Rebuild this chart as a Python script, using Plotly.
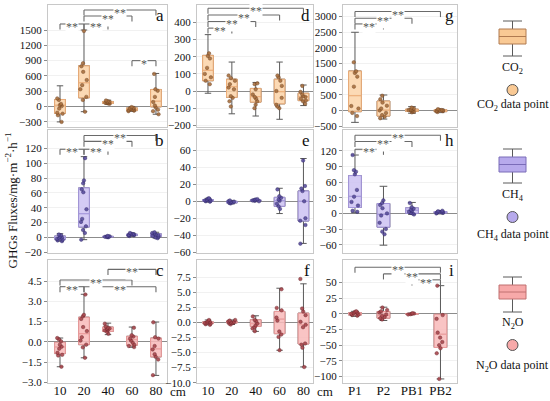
import plotly.graph_objects as go
from plotly.subplots import make_subplots

# %% Data
depth_cats = ["10", "20", "40", "60", "80"]
plot_cats = ["P1", "P2", "PB1", "PB2"]

# box stats per category: [lower whisker, q1, median, q3, upper whisker]
# CO2 by depth (a), CO2 by depth (d), CO2 by plot (g)
a_box = [[-300, -136, 27, 139, 407], [-100, 171, 466, 800, 1500],
         [45, 60, 80, 100, 125], [-95, -80, -55, -25, -5], [-150, -5, 106, 335, 649]]
a_pts = [[160, 130, 50, 30, 10, -40, -120, -140, -170, -300],
         [1480, 850, 790, 680, 520, 420, 340, 190, 130, -100],
         [120, 105, 95, 85, 80, 75, 70, 60, 55],
         [-10, -25, -35, -45, -55, -60, -70, -80, -90],
         [640, 340, 310, 190, 90, 20, -20, -60, -90, -150]]
a_sig = [(0, 1, 1618, "**"), (1, 2, 1618, "**"), (1, 3, 1775, "**"),
         (1, 4, 1893, "**"), (3, 4, 900, "*")]
a_ticks = [-300, 0, 300, 600, 900, 1200, 1500]

d_box = [[-13, 60, 121, 208, 329], [-133, -37, 25, 69, 169], [-146, -65, -33, 15, 50],
         [-165, -75, -4, 69, 169], [-85, -56, -33, -13, 35]]
d_pts = [[220, 205, 190, 135, 100, 80, 60, 40],
         [90, 75, 60, 40, 20, 10, -30, -40, -60, -90],
         [45, 40, 10, -20, -35, -45, -60, -80, -100],
         [90, 80, 60, 30, 0, -40, -80, -90, -100],
         [30, -5, -20, -30, -35, -45, -55, -60, -75]]
d_sig = [(0, 1, 367, "**"), (0, 2, 406, "**"), (0, 3, 444, "**"), (0, 4, 483, "**")]
d_ticks = [-200, -100, 0, 100, 200, 300, 400]

g_box = [[-382, -41, 471, 1261, 2498], [-276, -180, 11, 300, 493],
         [-90, -30, 10, 40, 120], [-70, -40, -5, 20, 45]]
g_pts = [[1540, 1250, 1200, 1080, 760, 140, 60, -80, -180],
         [470, 360, 250, 150, 60, 0, -80, -150, -200, -250],
         [90, 60, 30, 20, 10, 0, -20, -40, -60],
         [40, 20, 10, 0, -10, -20, -30, -50]]
g_sig = [(0, 1, 2765, "**"), (0, 2, 2947, "**"), (0, 3, 3160, "**")]
g_ticks = [-500, 0, 500, 1000, 1500, 2000, 2500, 3000]

# CH4
b_box = [[-5, -3, 0, 2, 5], [-3, 14, 32, 67, 109], [0, 0.5, 1, 1.5, 2],
         [1.5, 2.5, 3.5, 4.5, 6], [-1, 1, 3, 5, 7]]
b_pts = [[4, 3, 1, 0, -1, -2, -3, -4, -5],
         [107, 77, 73, 65, 61, 38, 25, 21, 15, 10, 6, -3],
         [2, 1.5, 1.2, 1, 0.8, 0.5, 0.3],
         [6, 5, 4.5, 4, 3.5, 3, 2.5, 2],
         [7, 6, 5, 4, 3, 2, 1, 0, -1]]
b_sig = [(0, 1, 119, "**"), (1, 2, 119, "**"), (1, 3, 129.7, "**"), (1, 4, 137.6, "**")]
b_ticks = [-20, 0, 20, 40, 60, 80, 100, 120]

e_box = [[-1, 0, 1, 2, 3.5], [-3, -2, -1, 0, 1], [-0.5, 0.3, 1, 1.6, 2.5],
         [-14.5, -6, 0.8, 4.6, 15.3], [-49.7, -23.3, 0, 12.2, 50.4]]
e_pts = [[3.5, 3, 2, 1.5, 1, 0.5, 0, -0.5],
         [1, 0, -0.5, -1, -1.5, -2, -2.5],
         [2.5, 2, 1.5, 1, 0.5, 0],
         [14, 6, 4, 2, 0.5, -3, -6, -9],
         [48, 18, 15, 12, 0, -20, -23, -28, -50]]
e_sig = []
e_ticks = [-60, -40, -20, 0, 20, 40, 60]

h_box = [[1.2, 11.3, 32.8, 72.6, 112], [-61, -26.5, -2, 19, 52],
         [-2, 0, 6, 10.7, 21], [-1, 0.5, 2, 3.5, 5]]
h_pts = [[112, 83, 80, 75, 45, 32, 22, 15, 5, 3],
         [25, 20, 16, 10, 0, -4, -18, -30, -35, -40],
         [20, 12, 9, 7, 5, 3, 1, 0, -2],
         [5, 4, 3, 2.5, 2, 1.5, 1, 0]]
h_sig = [(0, 1, 123, "**"), (0, 2, 138, "**"), (0, 3, 150, "**")]
h_ticks = [-60, -30, 0, 30, 60, 90, 120]

# N2O
c_box = [[-1.83, -0.86, -0.37, -0.02, 0.29], [-1.17, -0.2, 0.61, 1.83, 3.52],
         [0.54, 0.78, 0.95, 1.1, 1.39], [-0.39, -0.24, 0.17, 0.42, 1.1],
         [-2.47, -1.1, -0.51, 0.29, 1.47]]
c_pts = [[0.29, 0.2, 0.05, -0.2, -0.35, -0.5, -0.8, -0.95, -1.0, -1.83],
         [3.5, 2.0, 1.9, 1.7, 1.1, 0.8, 0.35, 0.1, -0.2, -0.4, -1.17],
         [1.35, 1.15, 1.05, 1.0, 0.95, 0.9, 0.85, 0.75, 0.6],
         [1.05, 0.5, 0.4, 0.25, 0.1, -0.05, -0.2, -0.3, -0.38],
         [1.45, 0.35, 0.25, -0.3, -0.55, -0.9, -1.1, -1.3, -2.45]]
c_sig = [(0, 1, 4.08, "**"), (1, 4, 4.08, "**"), (0, 3, 4.57, "**"), (2, 4, 5.36, "**")]
c_ticks = [-3.0, -1.5, 0.0, 1.5, 3.0, 4.5]

f_box = [[-0.4, -0.2, 0, 0.1, 0.4], [-0.35, -0.1, 0.05, 0.2, 0.4],
         [-1.49, -0.66, -0.22, 0.44, 1.1], [-4.62, -1.87, 0.55, 1.82, 5.67],
         [-7.38, -3.58, -0.39, 1.54, 6.4]]
f_pts = [[0.4, 0.2, 0.1, 0, -0.1, -0.2, -0.3, -0.4],
         [0.4, 0.3, 0.15, 0.05, 0, -0.1, -0.2, -0.35],
         [1.0, 0.4, 0.2, -0.2, -0.5, -0.8, -1.0, -1.45],
         [5.5, 2.4, 2.0, 0.8, 0.3, -1.5, -2.0, -2.4, -4.6],
         [7.2, 2.3, 1.8, 1.2, 0.1, -0.4, -0.8, -3.5, -3.7, -4.2, -7.4]]
f_sig = []
f_ticks = [-10.0, -7.5, -5.0, -2.5, 0.0, 2.5, 5.0, 7.5]

i_box = [[-4, -2, 0, 2, 4], [-10.6, -6.9, -2.7, 3.7, 10.6],
         [-1, -0.5, 0, 0.5, 1], [-104, -53.7, -32.5, -0.5, 45]]
i_pts = [[4, 3, 2, 1, 0, -1, -2, -3],
         [10, 6, 4, 2, -1, -3, -5, -7, -9],
         [1, 0.5, 0, -0.5, -1],
         [45, -2, -8, -30, -38, -45, -50, -55, -63, -104]]
i_sig = [(0, 3, 74.5, "**"), (1, 3, 63.8, "**"), (2, 3, 54.3, "**")]
i_ticks = [-100, -75, -50, -25, 0, 25, 50]

# %% Styles
FONT = "Liberation Serif"
WHISKER = "#5a5a5a"
STYLE = {
    "co2": dict(fill="rgba(251,211,168,0.85)", edge="#EFAE78", pt="#A8703F", ptline="#6e4322",
                legfill="#F9C994", legedge="#b07a50", label="CO<sub>2</sub>"),
    "ch4": dict(fill="rgba(204,194,242,0.85)", edge="#A597DD", pt="#5A4E9E", ptline="#2f2766",
                legfill="#B7AAEC", legedge="#7a6cb8", label="CH<sub>4</sub>"),
    "n2o": dict(fill="rgba(248,186,186,0.85)", edge="#EE9C9C", pt="#A9484E", ptline="#6b2328",
                legfill="#F7A9A9", legedge="#c07070", label="N<sub>2</sub>O"),
}

panels = [
    dict(letter="a", row=1, col=1, gas="co2", cats=depth_cats, box=a_box, pts=a_pts, sig=a_sig, ticks=a_ticks, yr=[-400, 1990], fmt=""),
    dict(letter="d", row=1, col=2, gas="co2", cats=depth_cats, box=d_box, pts=d_pts, sig=d_sig, ticks=d_ticks, yr=[-210, 502], fmt=""),
    dict(letter="g", row=1, col=3, gas="co2", cats=plot_cats, box=g_box, pts=g_pts, sig=g_sig, ticks=g_ticks, yr=[-530, 3370], fmt=""),
    dict(letter="b", row=2, col=1, gas="ch4", cats=depth_cats, box=b_box, pts=b_pts, sig=b_sig, ticks=b_ticks, yr=[-21, 145], fmt=""),
    dict(letter="e", row=2, col=2, gas="ch4", cats=depth_cats, box=e_box, pts=e_pts, sig=e_sig, ticks=e_ticks, yr=[-61, 84], fmt=""),
    dict(letter="h", row=2, col=3, gas="ch4", cats=plot_cats, box=h_box, pts=h_pts, sig=h_sig, ticks=h_ticks, yr=[-76, 160], fmt=""),
    dict(letter="c", row=3, col=1, gas="n2o", cats=depth_cats, box=c_box, pts=c_pts, sig=c_sig, ticks=c_ticks, yr=[-3.03, 6.05], fmt=".1f"),
    dict(letter="f", row=3, col=2, gas="n2o", cats=depth_cats, box=f_box, pts=f_pts, sig=f_sig, ticks=f_ticks, yr=[-10.05, 10.35], fmt=".1f"),
    dict(letter="i", row=3, col=3, gas="n2o", cats=plot_cats, box=i_box, pts=i_pts, sig=i_sig, ticks=i_ticks, yr=[-110.5, 86], fmt=""),
]

W, H = 550, 401
def px(x):
    return x / W
def py(y):
    return 1 - y / H

col_dom = {1: [px(48), px(167)], 2: [px(197), px(313)], 3: [px(343), px(457)]}
row_dom = {1: [py(127), py(5)], 2: [py(253), py(130)], 3: [py(383), py(260)]}
x_range = {1: [-0.5, 4.46], 2: [-0.46, 4.4], 3: [-0.42, 3.58]}

fig = make_subplots(rows=3, cols=3)
shapes, annotations = [], []

def note(**kw):
    kw.setdefault("showarrow", False)
    kw.setdefault("xanchor", "center")
    kw.setdefault("yanchor", "middle")
    annotations.append(kw)

for p in panels:
    r, c = p["row"], p["col"]
    n = (r - 1) * 3 + c
    sfx = "" if n == 1 else str(n)
    st = STYLE[p["gas"]]
    lo, q1, med, q3, hi = [list(v) for v in zip(*p["box"])]

    # whiskers with caps
    fig.add_trace(go.Box(x=p["cats"], q1=q1, median=med, q3=q3, lowerfence=lo, upperfence=hi,
                         fillcolor="rgba(0,0,0,0)", line=dict(color=WHISKER, width=1),
                         whiskerwidth=0.6, boxpoints=False, showlegend=False), row=r, col=c)
    # coloured box
    fig.add_trace(go.Box(x=p["cats"], q1=q1, median=med, q3=q3, lowerfence=q1, upperfence=q3,
                         fillcolor=st["fill"], line=dict(color=st["edge"], width=1),
                         whiskerwidth=0, boxpoints=False, showlegend=False), row=r, col=c)
    # data points
    xs = [cat for cat, pts in zip(p["cats"], p["pts"]) for _ in pts]
    ys = [v for pts in p["pts"] for v in pts]
    fig.add_trace(go.Box(x=xs, y=ys, boxpoints="all", jitter=0.7, pointpos=0,
                         fillcolor="rgba(0,0,0,0)", line=dict(width=0),
                         marker=dict(size=3.5, color=st["pt"], opacity=0.9,
                                     line=dict(width=0.5, color=st["ptline"])),
                         showlegend=False), row=r, col=c)

    fig.update_layout({
        f"xaxis{sfx}": dict(domain=col_dom[c], type="category", categoryorder="array",
                            categoryarray=p["cats"], range=x_range[c], showgrid=False,
                            showline=True, mirror=True, linecolor="#c8c8c8", linewidth=1,
                            ticks="", showticklabels=(r == 3), automargin=False,
                            ticklabelstandoff=-5,
                            tickfont=dict(size=13, color="#111", family=FONT)),
        f"yaxis{sfx}": dict(domain=row_dom[r], range=p["yr"], tickmode="array",
                            tickvals=p["ticks"], tickformat=p["fmt"], showgrid=True,
                            gridcolor="#f1f1f1", gridwidth=1, zeroline=True,
                            zerolinecolor="#8c8c8c", zerolinewidth=1, showline=True,
                            mirror=True, linecolor="#c8c8c8", linewidth=1, ticks="outside",
                            ticklen=3, tickcolor="#8c8c8c", automargin=False,
                            tickfont=dict(size=11, color="#111", family=FONT)),
    })

    # significance brackets
    leg = 0.045 * (p["yr"][1] - p["yr"][0])
    xr, yr = f"x{sfx}", f"y{sfx}"
    for i1, i2, yv, lab in p["sig"]:
        line = dict(color="#6a6a6a", width=1.1)
        shapes.append(dict(type="line", xref=xr, yref=yr, x0=i1, x1=i2, y0=yv, y1=yv, line=line))
        shapes.append(dict(type="line", xref=xr, yref=yr, x0=i1, x1=i1, y0=yv, y1=yv - leg, line=line))
        shapes.append(dict(type="line", xref=xr, yref=yr, x0=i2, x1=i2, y0=yv, y1=yv - leg, line=line))
        note(x=(i1 + i2) / 2, y=yv, xref=xr, yref=yr, text=lab, bgcolor="white",
             borderpad=0, yshift=-3, font=dict(size=12, color="#555", family=FONT))

    # panel letter
    note(x=0.995, y=0.915, xref=f"x{sfx} domain", yref=f"y{sfx} domain", text=p["letter"],
         xanchor="right", font=dict(size=17, color="#111", family=FONT))

# "cm" unit after the depth axis
for c in (1, 2):
    note(x=4, y=py(391), xref=f"x{6 + c}", yref="paper", xshift=22, text="cm",
         font=dict(size=13, color="#111", family=FONT))

# shared y title
note(x=px(11), y=0.5, xref="paper", yref="paper", textangle=-90,
     text="GHGs Fluxes/mg·m<sup>−2</sup>·h<sup>−1</sup>",
     font=dict(size=13, color="#111", family=FONT))

# legend on the right
def legend_item(gas, cap_top, box_top, box_bot, cap_bot, txt_y, circ_y, txt2_y):
    st = STYLE[gas]
    xc = 512.5
    wl = dict(color=WHISKER, width=1)
    shapes.append(dict(type="line", xref="paper", yref="paper", x0=px(xc), x1=px(xc),
                       y0=py(cap_top), y1=py(cap_bot), line=wl))
    for yy in (cap_top, cap_bot):
        shapes.append(dict(type="line", xref="paper", yref="paper", x0=px(503), x1=px(522),
                           y0=py(yy), y1=py(yy), line=wl))
    shapes.append(dict(type="rect", xref="paper", yref="paper", x0=px(499), x1=px(526),
                       y0=py(box_bot), y1=py(box_top), fillcolor=st["legfill"],
                       line=dict(color=st["legedge"], width=1)))
    mid = (box_top + box_bot) / 2
    shapes.append(dict(type="line", xref="paper", yref="paper", x0=px(499), x1=px(526),
                       y0=py(mid), y1=py(mid), line=dict(color=st["legedge"], width=1)))
    shapes.append(dict(type="circle", xref="paper", yref="paper", x0=px(xc - 5.5), x1=px(xc + 5.5),
                       y0=py(circ_y + 5.5), y1=py(circ_y - 5.5), fillcolor=st["legfill"],
                       line=dict(color="#555", width=1)))
    note(x=px(xc), y=py(txt_y), xref="paper", yref="paper", text=st["label"],
         font=dict(size=12, color="#111", family=FONT))
    note(x=px(xc), y=py(txt2_y), xref="paper", yref="paper", text=st["label"] + " data point",
         font=dict(size=12, color="#111", family=FONT))

legend_item("co2", 21, 29, 44, 56, 68, 90, 105)
legend_item("ch4", 149, 157, 172, 183, 195, 217, 235)
legend_item("n2o", 277, 285, 299, 312, 323, 345, 366)

fig.update_layout(width=W, height=H, margin=dict(l=0, r=0, t=0, b=0),
                  template="none", paper_bgcolor="white", plot_bgcolor="white",
                  boxmode="overlay", boxgap=0.36, showlegend=False,
                  shapes=shapes, annotations=annotations,
                  font=dict(family=FONT, color="#111"))

# page body has a default 8px margin; remove it so the figure sits at the origin
fig.write_html("out.html", config={"displayModeBar": False},
               post_script="document.body.style.margin='0';")
